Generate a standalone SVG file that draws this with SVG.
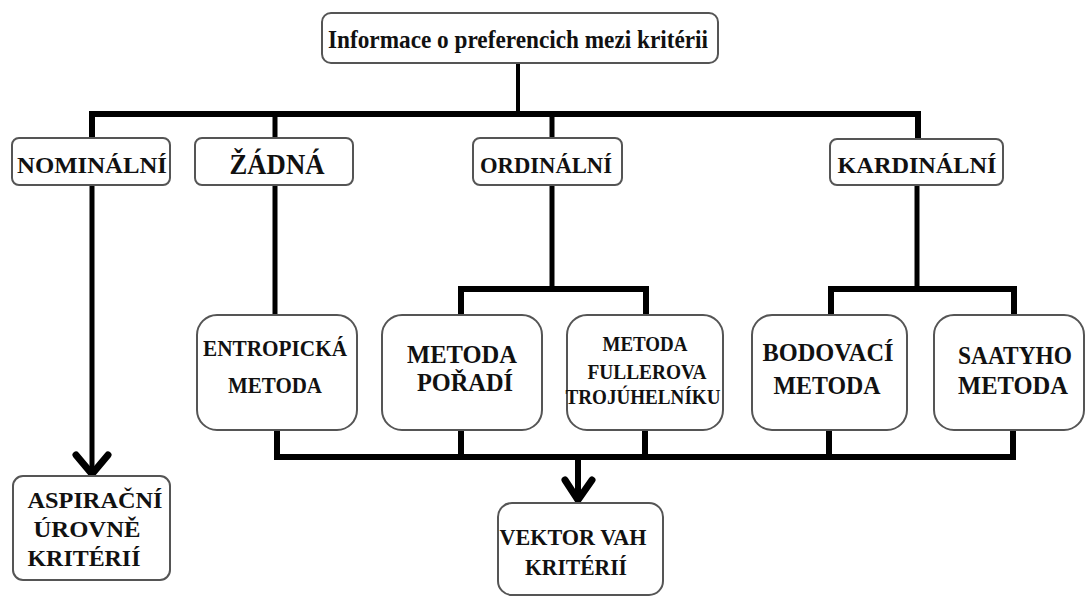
<svg xmlns="http://www.w3.org/2000/svg" width="1088" height="598" viewBox="0 0 1088 598">
<style>
.box{fill:#fff;stroke:#555;stroke-width:2}
.t{font-family:"Liberation Serif","Times New Roman",serif;font-weight:bold;fill:#111;text-anchor:middle}
.c{fill:none;stroke:#000;stroke-linecap:butt;stroke-linejoin:miter}
.ah{fill:none;stroke:#000;stroke-width:7;stroke-linecap:round;stroke-linejoin:miter}
</style>
<rect width="1088" height="598" fill="#fff"/>
<g id="connectors">
<path class="c" stroke-width="4" d="M518 63V114"/>
<path class="c" stroke-width="6" d="M92 138V114H918V138"/>
<path class="c" stroke-width="5" d="M275 114V138M552 114V138"/>
<path class="c" stroke-width="5" d="M92 185V474"/>
<path class="c" stroke-width="5" d="M275 185V315"/>
<path class="c" stroke-width="5" d="M552 185V289"/>
<path class="c" stroke-width="6" d="M461 315V289H646V315"/>
<path class="c" stroke-width="5" d="M917 185V289"/>
<path class="c" stroke-width="6" d="M831 315V289H1014V315"/>
<path class="c" stroke-width="6" d="M277 430V457H1013V430M461 430V457M645 430V457M829 430V457"/>
<path class="c" stroke-width="6" d="M578 457V500"/>
<path class="ah" d="M76 455L92 474L108 455"/>
<path class="ah" d="M565 480L578 500L592 480"/>
</g>
<g id="n_top"><rect class="box" x="322" y="13" width="396" height="50" rx="9"/><text class="t" x="518" y="48" font-size="25" textLength="380" lengthAdjust="spacingAndGlyphs">Informace o preferencich mezi kritérii</text></g>
<g id="n_nominalni"><rect class="box" x="12" y="138" width="158" height="47" rx="7"/><text class="t" x="92" y="173" font-size="24" textLength="150" lengthAdjust="spacingAndGlyphs">NOMINÁLNÍ</text></g>
<g id="n_zadna"><rect class="box" x="195" y="138" width="158" height="47" rx="7"/><text class="t" x="277" y="174" font-size="29" textLength="95" lengthAdjust="spacingAndGlyphs">ŽÁDNÁ</text></g>
<g id="n_ordinalni"><rect class="box" x="473" y="138" width="149" height="47" rx="7"/><text class="t" x="546" y="173" font-size="24" textLength="132" lengthAdjust="spacingAndGlyphs">ORDINÁLNÍ</text></g>
<g id="n_kardinalni"><rect class="box" x="830" y="139" width="173" height="46" rx="7"/><text class="t" x="917" y="173" font-size="24" textLength="159" lengthAdjust="spacingAndGlyphs">KARDINÁLNÍ</text></g>
<g id="n_entropicka"><rect class="box" x="197" y="315" width="160" height="115" rx="20"/><text class="t" x="275" y="356" font-size="23" textLength="144" lengthAdjust="spacingAndGlyphs">ENTROPICKÁ</text><text class="t" x="275" y="393" font-size="23" textLength="94" lengthAdjust="spacingAndGlyphs">METODA</text></g>
<g id="n_poradi"><rect class="box" x="382" y="315" width="160" height="115" rx="20"/><text class="t" x="462" y="363" font-size="25" textLength="110" lengthAdjust="spacingAndGlyphs">METODA</text><text class="t" x="465" y="391" font-size="25" textLength="96" lengthAdjust="spacingAndGlyphs">POŘADÍ</text></g>
<g id="n_fullerova"><rect class="box" x="567" y="315" width="156" height="115" rx="20"/><text class="t" x="645" y="351" font-size="20" textLength="85" lengthAdjust="spacingAndGlyphs">METODA</text><text class="t" x="647" y="379" font-size="20" textLength="119" lengthAdjust="spacingAndGlyphs">FULLEROVA</text><text class="t" x="643" y="404" font-size="20" textLength="155" lengthAdjust="spacingAndGlyphs">TROJÚHELNÍKU</text></g>
<g id="n_bodovaci"><rect class="box" x="752" y="315" width="155" height="115" rx="20"/><text class="t" x="828" y="361" font-size="25" textLength="131" lengthAdjust="spacingAndGlyphs">BODOVACÍ</text><text class="t" x="827" y="394" font-size="25" textLength="107" lengthAdjust="spacingAndGlyphs">METODA</text></g>
<g id="n_saatyho"><rect class="box" x="934" y="315" width="150" height="115" rx="20"/><text class="t" x="1015" y="364" font-size="25" textLength="114" lengthAdjust="spacingAndGlyphs">SAATYHO</text><text class="t" x="1013" y="394" font-size="25" textLength="110" lengthAdjust="spacingAndGlyphs">METODA</text></g>
<g id="n_aspiracni"><rect class="box" x="13" y="476" width="157" height="104" rx="10"/><text class="t" x="95" y="508" font-size="24" textLength="135" lengthAdjust="spacingAndGlyphs">ASPIRAČNÍ</text><text class="t" x="87" y="537" font-size="24" textLength="107" lengthAdjust="spacingAndGlyphs">ÚROVNĚ</text><text class="t" x="84" y="566" font-size="24" textLength="113" lengthAdjust="spacingAndGlyphs">KRITÉRIÍ</text></g>
<g id="n_vektor"><rect class="box" x="498" y="503" width="165" height="92" rx="14"/><text class="t" x="573" y="545" font-size="24" textLength="147" lengthAdjust="spacingAndGlyphs">VEKTOR VAH</text><text class="t" x="576" y="575" font-size="24" textLength="102" lengthAdjust="spacingAndGlyphs">KRITÉRIÍ</text></g>
</svg>
